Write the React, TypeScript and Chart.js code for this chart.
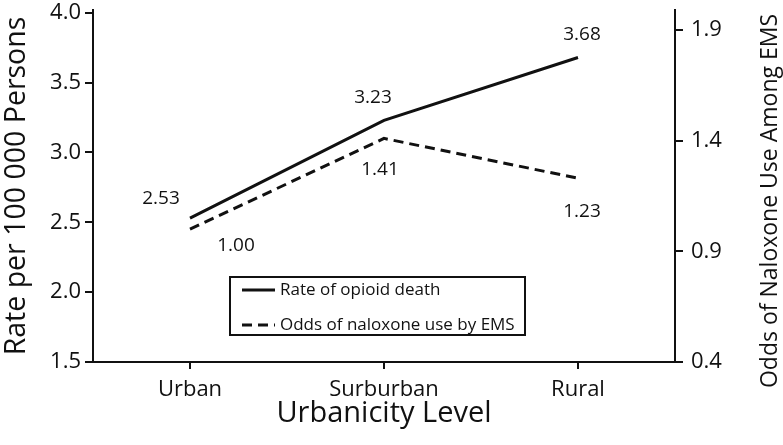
import React, { useEffect, useRef } from "react";
import { Chart, registerables } from "chart.js";

Chart.register(...registerables);

// ---- data ----
const categories = ["Urban", "Surburban", "Rural"];
const opioidDeathRate = [2.53, 3.23, 3.68];
const naloxoneOdds = [1.0, 1.41, 1.23];
const leftTicks = [1.5, 2.0, 2.5, 3.0, 3.5, 4.0];
const rightTicks = [0.4, 0.9, 1.4, 1.9];
const seriesNames = ["Rate of opioid death", "Odds of naloxone use by EMS"];
const xTitle = "Urbanicity Level";
const leftTitle = "Rate per 100 000 Persons";
const rightTitle = "Odds of Naloxone Use Among EMS";

const FONT = "'Open Sans', sans-serif";
const INK = "#111";

// value label offsets (px) relative to each point, per dataset
const labelOffsets = [
  [[-29, -20], [-11, -23], [4, -23]],
  [[46, 16], [-4, 31], [4, 33]],
];

const valueLabels = {
  id: "valueLabels",
  afterDatasetsDraw(chart: any) {
    const ctx = chart.ctx;
    ctx.save();
    ctx.font = `19px ${FONT}`;
    ctx.fillStyle = INK;
    ctx.textAlign = "center";
    ctx.textBaseline = "middle";
    chart.data.datasets.forEach((ds: any, di: number) => {
      const meta = chart.getDatasetMeta(di);
      meta.data.forEach((pt: any, i: number) => {
        const [dx, dy] = labelOffsets[di][i];
        ctx.fillText(Number(ds.data[i]).toFixed(2), pt.x + dx, pt.y + dy);
      });
    });
    ctx.restore();
  },
};

const boxLegend = {
  id: "boxLegend",
  afterDraw(chart: any) {
    const ctx = chart.ctx;
    const bx = 230, by = 277, bw = 295, bh = 58;
    ctx.save();
    ctx.strokeStyle = INK;
    ctx.lineWidth = 2;
    ctx.strokeRect(bx, by, bw, bh);
    const rows = [290, 325];
    chart.data.datasets.forEach((ds: any, i: number) => {
      const y = rows[i];
      ctx.beginPath();
      ctx.setLineDash(ds.borderDash || []);
      ctx.lineWidth = 3;
      ctx.moveTo(242, y);
      ctx.lineTo(275, y);
      ctx.stroke();
      ctx.setLineDash([]);
      ctx.fillStyle = INK;
      ctx.font = `17px ${FONT}`;
      ctx.textAlign = "left";
      ctx.textBaseline = "middle";
      ctx.fillText(ds.label, 280, y);
    });
    ctx.restore();
  },
};

const rightAxisTitle = {
  id: "rightAxisTitle",
  afterDraw(chart: any) {
    const ctx = chart.ctx;
    ctx.save();
    ctx.translate(770, 201);
    ctx.rotate(-Math.PI / 2);
    ctx.font = `23px ${FONT}`;
    ctx.fillStyle = INK;
    ctx.textAlign = "center";
    ctx.textBaseline = "middle";
    ctx.fillText(rightTitle, 0, 0);
    ctx.restore();
  },
};

export default function App() {
  const ref = useRef<HTMLCanvasElement>(null);

  useEffect(() => {
    if (!ref.current) return;
    const axisCommon = {
      border: { display: true, color: INK, width: 2 },
      grid: {
        drawOnChartArea: false,
        drawTicks: true,
        tickLength: 8,
        color: INK,
        lineWidth: 2,
      },
    };
    const noPad = (s: any) => {
      s.paddingTop = 0;
      s.paddingBottom = 0;
      s.paddingLeft = 0;
      s.paddingRight = 0;
    };
    const chart = new Chart(ref.current, {
      type: "line",
      data: {
        labels: categories,
        datasets: [
          {
            label: seriesNames[0],
            data: opioidDeathRate,
            yAxisID: "y",
            borderColor: INK,
            borderWidth: 3,
            pointRadius: 0,
            tension: 0,
            fill: false,
          },
          {
            label: seriesNames[1],
            data: naloxoneOdds,
            yAxisID: "y1",
            borderColor: INK,
            borderWidth: 3,
            borderDash: [10, 6],
            pointRadius: 0,
            tension: 0,
            fill: false,
          },
        ],
      },
      options: {
        responsive: false,
        animation: false,
        devicePixelRatio: 1,
        layout: { padding: { top: 10, left: 0, right: 0, bottom: 0 } },
        plugins: {
          legend: { display: false },
          tooltip: { enabled: false },
        },
        scales: {
          x: {
            type: "category",
            offset: true,
            ...axisCommon,
            grid: { ...axisCommon.grid, tickLength: 7, offset: false },
            ticks: { color: INK, font: { family: FONT, size: 22 }, padding: 8 },
            title: {
              display: true,
              text: xTitle,
              color: INK,
              font: { family: FONT, size: 29 },
              padding: { top: 0, bottom: 14 },
            },
            afterFit: (s: any) => {
              s.height = 83;
              noPad(s);
            },
          },
          y: {
            type: "linear",
            position: "left",
            min: 1.5,
            max: 4.02,
            ...axisCommon,
            ticks: {
              color: INK,
              font: { family: FONT, size: 22 },
              padding: 4,
              callback: (v: any) => Number(v).toFixed(1),
            },
            afterBuildTicks: (s: any) => {
              s.ticks = leftTicks.map((v) => ({ value: v }));
            },
            title: {
              display: true,
              text: leftTitle,
              color: INK,
              font: { family: FONT, size: 28.5 },
              padding: { top: 0, bottom: 0 },
            },
            afterFit: (s: any) => {
              s.width = 93;
              noPad(s);
            },
          },
          y1: {
            type: "linear",
            position: "right",
            min: 0.4,
            max: 1.99,
            ...axisCommon,
            ticks: {
              color: INK,
              font: { family: FONT, size: 22 },
              padding: 8,
              callback: (v: any) => Number(v).toFixed(1),
            },
            afterBuildTicks: (s: any) => {
              s.ticks = rightTicks.map((v) => ({ value: v }));
            },
            afterFit: (s: any) => {
              s.width = 108;
              noPad(s);
            },
          },
        },
      },
      plugins: [valueLabels, boxLegend, rightAxisTitle],
    } as any);
    return () => chart.destroy();
  }, []);

  return (
    <div style={{ position: "absolute", left: 0, top: 0, width: 783, height: 445, background: "#fff" }}>
      <canvas ref={ref} width={783} height={445} style={{ display: "block" }} />
    </div>
  );
}
